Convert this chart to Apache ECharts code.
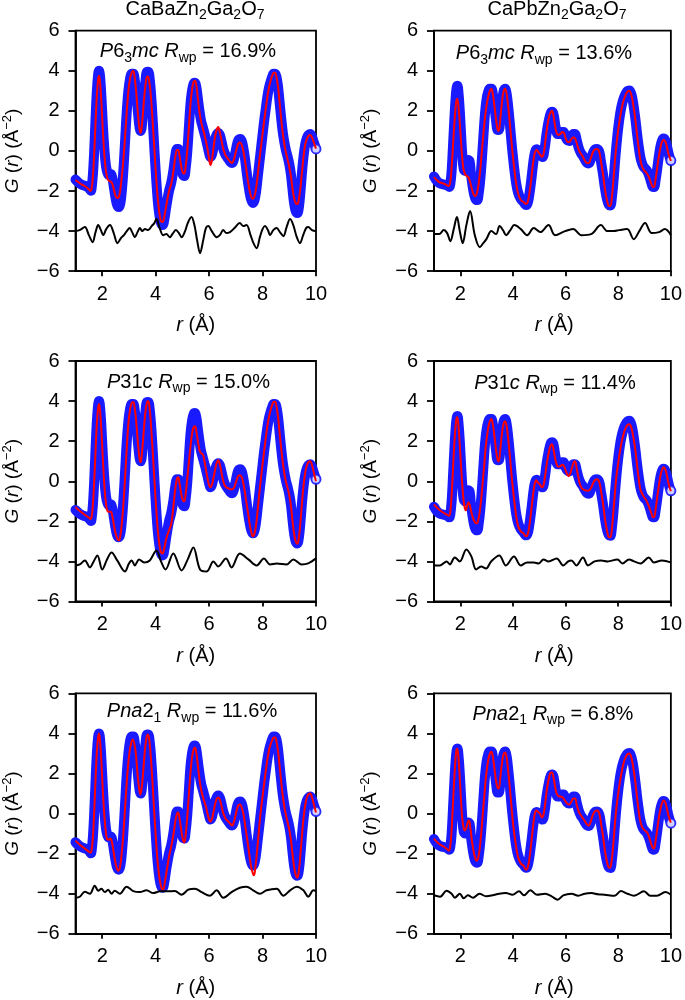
<!DOCTYPE html>
<html><head><meta charset="utf-8">
<script src="https://cdn.jsdelivr.net/npm/echarts@6/dist/echarts.min.js"></script>
<style>html,body{margin:0;padding:0;background:#fff}#c{width:685px;height:1000px}</style>
</head><body><div id="c"></div>
<script>
// ---------- DATA ----------
const compounds = ['CaBaZn2Ga2O7', 'CaPbZn2Ga2O7'];
const spaceGroups = ['P6_3mc', 'P6_3mc', 'P31c', 'P31c', 'Pna2_1', 'Pna2_1'];
const rwpValues = [16.9, 13.6, 15.0, 11.4, 11.6, 6.8];
const xTicks = [2, 4, 6, 8, 10];

// observed G(r), CaBaZn2Ga2O7
const obsBa = [[1.0,-1.43],[1.1,-1.56],[1.2,-1.66],[1.3,-1.72],[1.4,-1.76],[1.5,-1.85],[1.58,-1.98],[1.6,-1.9],[1.65,-1.2],[1.7,0.0],[1.75,1.6],[1.8,3.0],[1.85,3.85],[1.88,4.0],[1.92,3.7],[1.97,2.7],[2.02,1.4],[2.08,0.1],[2.14,-0.75],[2.2,-1.1],[2.26,-1.2],[2.32,-1.15],[2.38,-1.35],[2.44,-1.85],[2.5,-2.35],[2.56,-2.7],[2.62,-2.8],[2.68,-2.6],[2.74,-1.9],[2.8,-0.8],[2.86,0.6],[2.92,2.0],[2.98,3.0],[3.04,3.6],[3.1,3.85],[3.16,3.85],[3.22,3.5],[3.28,2.8],[3.34,1.9],[3.4,1.15],[3.44,1.0],[3.5,1.5],[3.56,2.6],[3.62,3.5],[3.68,3.95],[3.72,3.95],[3.78,3.55],[3.84,2.6],[3.9,1.3],[3.96,-0.1],[4.02,-1.4],[4.08,-2.5],[4.14,-3.2],[4.2,-3.6],[4.26,-3.7],[4.32,-3.45],[4.4,-2.75],[4.5,-2.0],[4.58,-1.6],[4.66,-1.0],[4.74,-0.2],[4.8,0.1],[4.84,0.1],[4.9,-0.25],[4.96,-0.8],[5.02,-1.2],[5.07,-1.25],[5.12,-0.9],[5.18,-0.1],[5.24,1.1],[5.3,2.3],[5.36,3.0],[5.42,3.35],[5.47,3.4],[5.52,3.2],[5.58,2.6],[5.64,2.0],[5.7,1.5],[5.76,1.2],[5.82,0.9],[5.88,0.6],[5.94,0.25],[6.0,-0.1],[6.05,-0.3],[6.1,-0.2],[6.16,0.15],[6.22,0.55],[6.28,0.8],[6.34,0.9],[6.4,0.8],[6.46,0.5],[6.52,0.15],[6.58,-0.1],[6.64,-0.25],[6.72,-0.4],[6.8,-0.55],[6.86,-0.6],[6.92,-0.45],[6.98,-0.1],[7.04,0.3],[7.1,0.55],[7.16,0.6],[7.22,0.5],[7.28,0.15],[7.34,-0.35],[7.4,-1.0],[7.46,-1.6],[7.52,-2.1],[7.58,-2.45],[7.64,-2.6],[7.7,-2.45],[7.76,-2.0],[7.82,-1.3],[7.88,-0.6],[7.94,0.1],[8.0,0.8],[8.06,1.5],[8.12,2.1],[8.18,2.7],[8.24,3.15],[8.3,3.45],[8.36,3.7],[8.42,3.85],[8.47,3.85],[8.52,3.7],[8.58,3.2],[8.64,2.4],[8.7,1.6],[8.76,0.9],[8.82,0.4],[8.88,0.0],[8.94,-0.3],[9.0,-0.65],[9.06,-1.15],[9.12,-1.9],[9.18,-2.6],[9.24,-3.0],[9.3,-3.1],[9.36,-2.8],[9.42,-2.0],[9.48,-1.0],[9.54,-0.2],[9.6,0.35],[9.66,0.65],[9.72,0.8],[9.78,0.85],[9.84,0.75],[9.9,0.5],[9.95,0.3],[10.0,0.1]];

// observed G(r), CaPbZn2Ga2O7
const obsPb = [[1.0,-1.27],[1.1,-1.48],[1.2,-1.6],[1.3,-1.65],[1.4,-1.68],[1.5,-1.72],[1.58,-1.8],[1.62,-1.65],[1.67,-1.0],[1.72,0.2],[1.77,1.5],[1.82,2.6],[1.86,3.15],[1.89,3.25],[1.93,2.9],[1.98,2.0],[2.03,0.8],[2.08,-0.3],[2.13,-0.9],[2.18,-1.0],[2.24,-0.75],[2.3,-0.45],[2.35,-0.5],[2.4,-1.1],[2.46,-1.7],[2.52,-2.15],[2.58,-2.4],[2.64,-2.45],[2.7,-2.1],[2.76,-1.4],[2.82,-0.4],[2.88,0.8],[2.94,1.9],[3.0,2.6],[3.06,2.95],[3.12,3.1],[3.18,3.1],[3.24,2.8],[3.3,2.2],[3.36,1.5],[3.42,1.05],[3.46,1.05],[3.52,1.6],[3.58,2.4],[3.64,2.95],[3.7,3.1],[3.76,2.85],[3.82,2.2],[3.88,1.4],[3.94,0.5],[4.0,-0.3],[4.06,-1.0],[4.12,-1.6],[4.2,-2.1],[4.3,-2.4],[4.4,-2.55],[4.5,-2.7],[4.56,-2.6],[4.62,-2.2],[4.7,-1.4],[4.78,-0.5],[4.84,-0.05],[4.9,0.08],[4.96,0.0],[5.04,-0.2],[5.12,-0.3],[5.2,0.1],[5.28,0.9],[5.36,1.5],[5.44,1.9],[5.5,1.95],[5.56,1.7],[5.62,1.2],[5.7,0.85],[5.78,0.85],[5.86,0.95],[5.92,0.95],[5.98,0.75],[6.06,0.55],[6.14,0.5],[6.22,0.7],[6.3,0.85],[6.36,0.85],[6.42,0.55],[6.5,0.15],[6.58,-0.1],[6.66,-0.25],[6.74,-0.45],[6.82,-0.6],[6.88,-0.62],[6.96,-0.4],[7.04,-0.1],[7.12,0.08],[7.2,0.1],[7.28,-0.05],[7.34,-0.5],[7.42,-1.15],[7.5,-1.9],[7.58,-2.45],[7.65,-2.7],[7.7,-2.72],[7.76,-2.3],[7.82,-1.5],[7.88,-0.5],[7.94,0.4],[8.0,1.15],[8.06,1.75],[8.12,2.2],[8.2,2.6],[8.28,2.85],[8.36,3.0],[8.42,3.02],[8.48,2.9],[8.54,2.6],[8.6,2.1],[8.66,1.5],[8.72,0.8],[8.78,0.2],[8.84,-0.3],[8.9,-0.6],[8.96,-0.78],[9.04,-0.9],[9.1,-1.0],[9.18,-1.25],[9.26,-1.6],[9.32,-1.8],[9.36,-1.8],[9.42,-1.45],[9.48,-0.9],[9.54,-0.3],[9.6,0.2],[9.66,0.5],[9.72,0.62],[9.78,0.55],[9.84,0.3],[9.9,-0.05],[9.95,-0.3],[10.0,-0.48]];

// calculated G(r) fits
const fitP6Ba = [[1.0,-1.45],[1.1,-1.55],[1.2,-1.65],[1.3,-1.72],[1.4,-1.8],[1.5,-1.92],[1.56,-2.0],[1.6,-1.9],[1.65,-1.3],[1.7,-0.1],[1.75,1.4],[1.8,2.8],[1.85,3.6],[1.88,3.75],[1.92,3.4],[1.97,2.4],[2.02,1.1],[2.08,-0.2],[2.14,-1.0],[2.2,-1.4],[2.26,-1.5],[2.32,-1.52],[2.38,-1.65],[2.44,-1.95],[2.5,-2.25],[2.56,-2.35],[2.62,-2.3],[2.68,-1.9],[2.74,-1.2],[2.8,-0.3],[2.86,0.8],[2.92,2.0],[2.98,3.0],[3.04,3.6],[3.1,3.9],[3.16,4.0],[3.22,3.6],[3.28,2.8],[3.34,1.8],[3.4,1.05],[3.44,0.9],[3.5,1.5],[3.56,2.5],[3.62,3.3],[3.68,3.72],[3.72,3.7],[3.78,3.3],[3.84,2.4],[3.9,1.2],[3.96,-0.1],[4.02,-1.35],[4.08,-2.4],[4.14,-3.1],[4.2,-3.5],[4.26,-3.55],[4.32,-3.3],[4.4,-2.7],[4.5,-2.0],[4.58,-1.65],[4.66,-1.05],[4.74,-0.25],[4.8,0.05],[4.84,0.05],[4.9,-0.3],[4.96,-0.8],[5.02,-1.1],[5.07,-1.12],[5.12,-0.8],[5.18,0.0],[5.24,1.1],[5.3,2.3],[5.36,3.05],[5.42,3.45],[5.47,3.5],[5.52,3.3],[5.58,2.6],[5.64,1.95],[5.7,1.45],[5.76,1.15],[5.82,0.85],[5.88,0.5],[5.94,0.1],[6.0,-0.4],[6.05,-0.7],[6.1,-0.5],[6.16,0.1],[6.22,0.7],[6.28,1.05],[6.34,1.2],[6.4,0.95],[6.46,0.55],[6.52,0.15],[6.58,-0.1],[6.64,-0.28],[6.72,-0.42],[6.8,-0.55],[6.86,-0.6],[6.92,-0.45],[6.98,-0.15],[7.04,0.15],[7.1,0.38],[7.16,0.42],[7.22,0.3],[7.28,0.0],[7.34,-0.45],[7.4,-1.0],[7.46,-1.55],[7.52,-2.0],[7.58,-2.3],[7.64,-2.38],[7.7,-2.25],[7.76,-1.85],[7.82,-1.2],[7.88,-0.5],[7.94,0.2],[8.0,0.85],[8.06,1.5],[8.12,2.1],[8.18,2.7],[8.24,3.15],[8.3,3.5],[8.36,3.75],[8.42,3.9],[8.47,3.9],[8.52,3.7],[8.58,3.2],[8.64,2.4],[8.7,1.55],[8.76,0.85],[8.82,0.3],[8.88,-0.1],[8.94,-0.45],[9.0,-0.8],[9.06,-1.25],[9.12,-1.85],[9.18,-2.35],[9.24,-2.6],[9.3,-2.65],[9.36,-2.4],[9.42,-1.8],[9.48,-1.0],[9.54,-0.2],[9.6,0.35],[9.66,0.6],[9.72,0.75],[9.78,0.8],[9.84,0.7],[9.9,0.5],[9.95,0.3],[10.0,0.12]];
const fitP6Pb = [[1.0,-1.3],[1.1,-1.45],[1.2,-1.55],[1.3,-1.6],[1.4,-1.65],[1.5,-1.72],[1.56,-1.75],[1.61,-1.6],[1.66,-1.0],[1.71,0.0],[1.76,1.1],[1.81,2.0],[1.85,2.5],[1.88,2.6],[1.92,2.35],[1.97,1.6],[2.02,0.6],[2.07,-0.3],[2.12,-0.9],[2.18,-1.15],[2.24,-1.25],[2.3,-1.3],[2.36,-1.5],[2.42,-1.8],[2.5,-2.15],[2.57,-2.25],[2.63,-2.1],[2.7,-1.6],[2.76,-0.9],[2.82,0.0],[2.88,0.9],[2.94,1.7],[3.0,2.3],[3.06,2.7],[3.12,3.0],[3.18,3.1],[3.24,2.8],[3.3,2.2],[3.36,1.55],[3.42,1.05],[3.46,1.0],[3.52,1.6],[3.58,2.4],[3.64,2.95],[3.7,3.1],[3.76,2.85],[3.82,2.2],[3.88,1.4],[3.94,0.5],[4.0,-0.3],[4.06,-1.0],[4.12,-1.6],[4.2,-2.15],[4.3,-2.45],[4.4,-2.55],[4.5,-2.65],[4.56,-2.55],[4.62,-2.15],[4.7,-1.35],[4.78,-0.45],[4.84,-0.05],[4.9,0.05],[4.96,-0.05],[5.04,-0.2],[5.1,-0.3],[5.16,-0.15],[5.22,0.35],[5.3,1.2],[5.38,1.75],[5.44,1.95],[5.48,2.0],[5.54,1.75],[5.6,1.25],[5.66,0.9],[5.72,0.8],[5.8,0.85],[5.88,0.95],[5.94,0.9],[6.0,0.65],[6.08,0.45],[6.14,0.45],[6.22,0.6],[6.3,0.68],[6.36,0.62],[6.42,0.4],[6.5,0.05],[6.56,-0.1],[6.64,-0.25],[6.74,-0.5],[6.82,-0.6],[6.88,-0.6],[6.96,-0.35],[7.04,-0.05],[7.12,0.08],[7.2,0.1],[7.28,-0.05],[7.34,-0.5],[7.42,-1.15],[7.5,-1.95],[7.58,-2.5],[7.65,-2.75],[7.7,-2.75],[7.76,-2.3],[7.82,-1.4],[7.88,-0.4],[7.94,0.4],[8.0,1.05],[8.06,1.6],[8.12,2.05],[8.2,2.5],[8.28,2.8],[8.36,2.97],[8.42,3.0],[8.48,2.88],[8.54,2.55],[8.6,2.05],[8.66,1.45],[8.72,0.75],[8.78,0.1],[8.84,-0.45],[8.9,-0.75],[8.96,-0.92],[9.04,-1.05],[9.1,-1.15],[9.18,-1.35],[9.26,-1.65],[9.32,-1.8],[9.36,-1.8],[9.42,-1.4],[9.48,-0.85],[9.54,-0.3],[9.6,0.15],[9.66,0.45],[9.72,0.55],[9.78,0.5],[9.84,0.25],[9.9,-0.1],[9.95,-0.3],[10.0,-0.5]];
const fitP31Ba = [[1.0,-1.3],[1.1,-1.42],[1.2,-1.52],[1.3,-1.62],[1.4,-1.72],[1.5,-1.82],[1.56,-1.88],[1.6,-1.8],[1.65,-1.2],[1.7,0.0],[1.75,1.5],[1.8,2.9],[1.85,3.7],[1.88,3.85],[1.92,3.5],[1.97,2.5],[2.02,1.2],[2.08,-0.2],[2.14,-1.1],[2.2,-1.5],[2.26,-1.52],[2.32,-1.52],[2.38,-1.75],[2.44,-2.2],[2.5,-2.6],[2.56,-2.85],[2.62,-2.95],[2.68,-2.7],[2.74,-2.0],[2.8,-1.0],[2.86,0.3],[2.92,1.7],[2.98,2.9],[3.04,3.55],[3.1,3.9],[3.16,3.95],[3.22,3.6],[3.28,2.85],[3.34,1.85],[3.4,1.1],[3.44,0.95],[3.5,1.6],[3.56,2.6],[3.62,3.5],[3.68,3.95],[3.72,4.0],[3.78,3.55],[3.84,2.5],[3.9,1.25],[3.96,-0.1],[4.02,-1.35],[4.08,-2.45],[4.14,-3.15],[4.2,-3.55],[4.26,-3.6],[4.32,-3.35],[4.4,-2.85],[4.5,-2.45],[4.58,-2.15],[4.66,-1.3],[4.74,-0.3],[4.8,0.15],[4.84,0.2],[4.9,-0.15],[4.96,-0.65],[5.02,-0.95],[5.07,-1.0],[5.12,-0.65],[5.18,0.1],[5.24,0.9],[5.3,1.7],[5.36,2.35],[5.42,2.7],[5.47,2.75],[5.52,2.5],[5.58,2.0],[5.64,1.55],[5.7,1.4],[5.76,1.35],[5.82,1.05],[5.88,0.6],[5.94,0.15],[6.0,-0.2],[6.05,-0.3],[6.1,-0.2],[6.16,0.15],[6.22,0.55],[6.28,0.9],[6.34,1.05],[6.4,0.85],[6.46,0.45],[6.52,0.05],[6.58,-0.2],[6.64,-0.3],[6.72,-0.35],[6.8,-0.4],[6.86,-0.4],[6.92,-0.35],[6.98,-0.15],[7.04,0.1],[7.1,0.28],[7.16,0.3],[7.22,0.2],[7.28,-0.1],[7.34,-0.55],[7.4,-1.1],[7.46,-1.6],[7.52,-2.15],[7.58,-2.55],[7.64,-2.75],[7.7,-2.6],[7.76,-2.15],[7.82,-1.4],[7.88,-0.6],[7.94,0.15],[8.0,0.85],[8.06,1.5],[8.12,2.15],[8.18,2.75],[8.24,3.2],[8.3,3.55],[8.36,3.8],[8.42,3.97],[8.47,3.97],[8.52,3.75],[8.58,3.2],[8.64,2.4],[8.7,1.6],[8.76,0.9],[8.82,0.35],[8.88,-0.05],[8.94,-0.35],[9.0,-0.7],[9.06,-1.2],[9.12,-1.95],[9.18,-2.6],[9.24,-3.0],[9.3,-3.12],[9.36,-2.8],[9.42,-2.0],[9.48,-1.0],[9.54,-0.15],[9.6,0.45],[9.66,0.8],[9.72,0.97],[9.78,1.0],[9.84,0.85],[9.9,0.55],[9.95,0.25],[10.0,0.0]];
const fitP31Pb = [[1.0,-1.15],[1.1,-1.3],[1.2,-1.42],[1.3,-1.52],[1.4,-1.6],[1.5,-1.68],[1.56,-1.72],[1.61,-1.6],[1.66,-0.9],[1.71,0.3],[1.76,1.6],[1.81,2.6],[1.85,3.1],[1.88,3.2],[1.92,2.9],[1.97,2.0],[2.02,0.9],[2.07,-0.1],[2.12,-0.9],[2.17,-1.35],[2.21,-1.45],[2.26,-1.2],[2.31,-1.05],[2.36,-1.2],[2.42,-1.55],[2.5,-1.9],[2.56,-2.05],[2.62,-2.1],[2.68,-1.95],[2.74,-1.5],[2.8,-0.8],[2.86,0.1],[2.92,1.0],[2.98,1.9],[3.04,2.5],[3.1,2.9],[3.18,3.1],[3.24,2.8],[3.3,2.2],[3.36,1.55],[3.42,1.05],[3.46,1.0],[3.52,1.6],[3.58,2.35],[3.64,2.85],[3.7,3.0],[3.76,2.75],[3.82,2.1],[3.88,1.3],[3.94,0.4],[4.0,-0.4],[4.06,-1.1],[4.12,-1.7],[4.2,-2.25],[4.3,-2.5],[4.4,-2.6],[4.5,-2.75],[4.56,-2.65],[4.62,-2.25],[4.7,-1.4],[4.78,-0.5],[4.84,-0.05],[4.88,0.05],[4.94,-0.05],[5.02,-0.15],[5.1,-0.3],[5.16,-0.2],[5.22,0.25],[5.3,1.0],[5.38,1.55],[5.44,1.8],[5.48,1.85],[5.54,1.6],[5.6,1.15],[5.66,0.85],[5.72,0.72],[5.8,0.75],[5.88,0.82],[5.94,0.75],[6.0,0.55],[6.06,0.35],[6.12,0.25],[6.18,0.4],[6.26,0.75],[6.32,0.98],[6.36,1.0],[6.42,0.65],[6.5,0.1],[6.56,-0.2],[6.64,-0.38],[6.74,-0.45],[6.82,-0.47],[6.9,-0.45],[6.98,-0.3],[7.06,-0.05],[7.14,0.08],[7.2,0.1],[7.28,-0.05],[7.34,-0.45],[7.42,-1.1],[7.5,-1.9],[7.58,-2.5],[7.65,-2.8],[7.7,-2.8],[7.76,-2.35],[7.82,-1.45],[7.88,-0.5],[7.94,0.35],[8.0,0.9],[8.06,1.45],[8.12,1.9],[8.2,2.35],[8.28,2.65],[8.36,2.82],[8.42,2.85],[8.48,2.75],[8.54,2.45],[8.6,2.0],[8.66,1.45],[8.72,0.75],[8.78,0.1],[8.84,-0.4],[8.9,-0.6],[8.96,-0.75],[9.04,-0.9],[9.1,-1.05],[9.18,-1.3],[9.26,-1.6],[9.32,-1.8],[9.36,-1.8],[9.42,-1.4],[9.48,-0.8],[9.54,-0.25],[9.6,0.25],[9.66,0.55],[9.72,0.7],[9.78,0.62],[9.84,0.35],[9.9,-0.05],[9.95,-0.3],[10.0,-0.5]];
const fitPnaBa = [[1.0,-1.35],[1.1,-1.48],[1.2,-1.6],[1.3,-1.7],[1.4,-1.8],[1.5,-1.9],[1.56,-1.95],[1.6,-1.85],[1.65,-1.2],[1.7,0.1],[1.75,1.7],[1.8,3.1],[1.85,3.85],[1.88,4.0],[1.92,3.6],[1.97,2.55],[2.02,1.2],[2.08,-0.1],[2.14,-0.95],[2.2,-1.3],[2.26,-1.3],[2.31,-1.25],[2.36,-1.4],[2.42,-1.85],[2.48,-2.35],[2.54,-2.7],[2.6,-2.85],[2.66,-2.7],[2.72,-2.1],[2.78,-1.2],[2.84,-0.05],[2.9,1.2],[2.96,2.3],[3.02,3.05],[3.08,3.5],[3.14,3.7],[3.2,3.5],[3.26,2.95],[3.32,2.0],[3.38,1.25],[3.43,0.95],[3.48,1.3],[3.54,2.2],[3.6,3.2],[3.66,3.8],[3.7,3.95],[3.76,3.7],[3.82,2.8],[3.88,1.6],[3.94,0.2],[4.0,-1.05],[4.06,-2.2],[4.12,-3.0],[4.18,-3.5],[4.24,-3.78],[4.28,-3.8],[4.34,-3.45],[4.42,-2.8],[4.5,-2.15],[4.58,-1.65],[4.66,-1.1],[4.74,-0.35],[4.8,0.0],[4.84,0.05],[4.9,-0.3],[4.96,-0.85],[5.02,-1.3],[5.07,-1.45],[5.12,-1.1],[5.18,-0.2],[5.24,0.9],[5.3,2.0],[5.36,2.8],[5.42,3.2],[5.47,3.3],[5.52,3.05],[5.58,2.4],[5.64,1.7],[5.7,1.2],[5.76,0.88],[5.82,0.6],[5.88,0.35],[5.94,0.0],[6.0,-0.3],[6.05,-0.4],[6.1,-0.3],[6.16,0.05],[6.22,0.45],[6.28,0.72],[6.34,0.8],[6.4,0.7],[6.46,0.4],[6.52,0.05],[6.58,-0.15],[6.64,-0.3],[6.72,-0.4],[6.8,-0.52],[6.86,-0.6],[6.92,-0.45],[6.98,-0.15],[7.04,0.2],[7.1,0.42],[7.16,0.45],[7.22,0.3],[7.28,0.0],[7.34,-0.5],[7.4,-1.05],[7.46,-1.6],[7.52,-2.2],[7.58,-2.7],[7.64,-3.0],[7.68,-3.08],[7.73,-2.7],[7.8,-1.8],[7.88,-0.6],[7.94,0.2],[8.0,0.85],[8.06,1.5],[8.12,2.1],[8.18,2.7],[8.24,3.15],[8.3,3.45],[8.36,3.65],[8.42,3.8],[8.47,3.8],[8.52,3.6],[8.58,3.1],[8.64,2.35],[8.7,1.55],[8.76,0.85],[8.82,0.3],[8.88,-0.1],[8.94,-0.45],[9.0,-0.8],[9.06,-1.3],[9.12,-2.0],[9.18,-2.65],[9.24,-3.05],[9.3,-3.2],[9.36,-2.85],[9.42,-2.0],[9.48,-1.0],[9.54,-0.15],[9.6,0.45],[9.66,0.8],[9.72,0.97],[9.78,1.0],[9.84,0.85],[9.9,0.55],[9.95,0.3],[10.0,0.05]];
const fitPnaPb = [[1.0,-1.25],[1.1,-1.4],[1.2,-1.52],[1.3,-1.6],[1.4,-1.68],[1.5,-1.78],[1.56,-1.85],[1.61,-1.7],[1.66,-1.0],[1.71,0.2],[1.76,1.5],[1.81,2.6],[1.85,3.15],[1.88,3.25],[1.92,2.95],[1.97,2.0],[2.02,0.8],[2.07,-0.2],[2.12,-0.7],[2.17,-0.85],[2.23,-0.7],[2.29,-0.4],[2.33,-0.35],[2.38,-0.7],[2.44,-1.35],[2.5,-1.85],[2.56,-2.2],[2.62,-2.35],[2.68,-2.2],[2.74,-1.7],[2.8,-0.9],[2.86,0.1],[2.92,1.0],[2.98,1.9],[3.04,2.5],[3.1,2.9],[3.18,3.08],[3.24,2.8],[3.3,2.2],[3.36,1.6],[3.42,1.27],[3.46,1.25],[3.52,1.8],[3.58,2.5],[3.64,2.95],[3.7,3.05],[3.76,2.8],[3.82,2.1],[3.88,1.3],[3.94,0.4],[4.0,-0.45],[4.06,-1.1],[4.12,-1.65],[4.2,-2.2],[4.3,-2.5],[4.4,-2.6],[4.5,-2.8],[4.56,-2.7],[4.62,-2.3],[4.7,-1.4],[4.78,-0.45],[4.84,0.05],[4.88,0.15],[4.94,0.1],[5.02,0.0],[5.1,-0.2],[5.16,-0.05],[5.22,0.45],[5.3,1.3],[5.38,1.85],[5.44,2.05],[5.48,2.05],[5.54,1.8],[5.6,1.35],[5.66,1.0],[5.72,0.88],[5.8,0.85],[5.88,0.82],[5.94,0.72],[6.0,0.6],[6.08,0.48],[6.14,0.45],[6.22,0.6],[6.3,0.75],[6.36,0.75],[6.42,0.45],[6.5,0.1],[6.56,-0.05],[6.64,-0.2],[6.74,-0.4],[6.82,-0.55],[6.88,-0.6],[6.96,-0.38],[7.04,-0.05],[7.12,0.12],[7.2,0.15],[7.28,0.0],[7.34,-0.45],[7.42,-1.1],[7.5,-1.9],[7.58,-2.45],[7.65,-2.7],[7.7,-2.68],[7.76,-2.25],[7.82,-1.4],[7.88,-0.4],[7.94,0.4],[8.0,1.0],[8.06,1.55],[8.12,2.0],[8.2,2.5],[8.28,2.8],[8.36,2.97],[8.42,3.0],[8.48,2.88],[8.54,2.55],[8.6,2.05],[8.66,1.45],[8.72,0.75],[8.78,0.1],[8.84,-0.4],[8.9,-0.65],[8.96,-0.78],[9.04,-0.88],[9.1,-0.95],[9.18,-1.2],[9.26,-1.55],[9.32,-1.72],[9.36,-1.75],[9.42,-1.35],[9.48,-0.8],[9.54,-0.25],[9.6,0.2],[9.66,0.5],[9.72,0.65],[9.78,0.58],[9.84,0.3],[9.9,-0.05],[9.95,-0.28],[10.0,-0.45]];

// difference curves (offset to about -4)
const diffP6Ba = [[1.0,-4.0],[1.15,-3.95],[1.35,-3.8],[1.5,-4.2],[1.64,-4.55],[1.75,-4.05],[1.85,-3.7],[1.95,-3.95],[2.04,-4.2],[2.15,-3.9],[2.29,-3.7],[2.43,-4.1],[2.57,-4.6],[2.7,-4.35],[2.81,-4.2],[2.92,-4.0],[3.03,-3.85],[3.12,-4.05],[3.22,-4.3],[3.32,-4.05],[3.41,-3.85],[3.5,-4.0],[3.6,-3.9],[3.72,-3.95],[3.85,-3.75],[3.95,-3.6],[4.03,-3.4],[4.15,-3.85],[4.28,-4.2],[4.4,-4.15],[4.53,-4.3],[4.65,-4.1],[4.76,-3.95],[4.87,-4.1],[4.97,-4.3],[5.1,-4.0],[5.2,-3.6],[5.34,-3.3],[5.45,-3.7],[5.55,-4.45],[5.66,-5.1],[5.78,-4.45],[5.88,-3.85],[5.97,-3.75],[6.1,-4.0],[6.28,-4.3],[6.4,-4.2],[6.53,-3.95],[6.65,-4.1],[6.78,-4.05],[6.95,-3.85],[7.15,-3.6],[7.28,-3.75],[7.4,-3.7],[7.55,-4.2],[7.66,-4.6],[7.78,-4.85],[7.9,-4.3],[8.0,-3.9],[8.09,-3.75],[8.2,-3.95],[8.28,-4.2],[8.4,-3.95],[8.53,-3.85],[8.65,-4.05],[8.78,-4.25],[8.9,-3.8],[9.03,-3.4],[9.15,-3.7],[9.28,-4.3],[9.4,-4.6],[9.52,-4.2],[9.63,-3.85],[9.71,-3.8],[9.85,-3.95],[10.0,-4.0]];
const diffP6Pb = [[1.0,-4.15],[1.2,-4.15],[1.37,-3.95],[1.5,-4.1],[1.62,-4.5],[1.75,-3.9],[1.87,-3.3],[1.98,-4.0],[2.09,-4.6],[2.23,-3.7],[2.37,-3.0],[2.55,-4.2],[2.74,-4.8],[2.87,-4.6],[2.99,-4.4],[3.18,-4.0],[3.36,-4.15],[3.49,-3.75],[3.62,-3.95],[3.74,-4.2],[3.9,-3.95],[4.05,-3.7],[4.3,-3.9],[4.54,-4.2],[4.79,-3.85],[5.04,-4.05],[5.35,-3.7],[5.6,-4.2],[5.98,-4.0],[6.29,-3.9],[6.6,-4.2],[6.97,-4.15],[7.34,-3.7],[7.59,-4.0],[7.84,-4.0],[8.03,-3.95],[8.34,-3.9],[8.59,-4.4],[8.8,-4.0],[9.02,-3.6],[9.27,-4.1],[9.55,-4.05],[9.77,-3.9],[10.0,-4.2]];
const diffP31Ba = [[1.0,-4.2],[1.16,-4.15],[1.35,-3.95],[1.54,-4.3],[1.68,-4.0],[1.82,-3.7],[2.0,-4.4],[2.18,-3.9],[2.35,-3.55],[2.56,-3.95],[2.85,-4.5],[3.0,-4.1],[3.1,-3.95],[3.22,-4.2],[3.38,-3.9],[3.57,-4.05],[3.78,-3.95],[4.03,-3.45],[4.2,-4.0],[4.37,-4.4],[4.66,-3.6],[4.97,-4.45],[5.2,-3.9],[5.41,-3.3],[5.66,-4.4],[5.91,-4.5],[6.16,-4.0],[6.34,-4.25],[6.63,-3.85],[6.84,-4.3],[7.15,-3.6],[7.47,-3.9],[7.78,-4.2],[8.05,-3.85],[8.28,-4.15],[8.53,-4.1],[8.9,-4.15],[9.15,-3.9],[9.46,-4.15],[9.71,-4.1],[10.0,-3.85]];
const diffP31Pb = [[1.0,-4.2],[1.23,-4.2],[1.48,-4.0],[1.6,-4.15],[1.79,-3.8],[1.98,-4.0],[2.23,-3.4],[2.42,-3.75],[2.6,-4.4],[2.79,-4.25],[2.98,-4.35],[3.17,-4.0],[3.48,-3.7],[3.73,-4.2],[4.04,-3.75],[4.29,-4.2],[4.54,-4.05],[4.79,-4.05],[4.98,-4.1],[5.16,-3.9],[5.35,-4.0],[5.66,-3.85],[5.91,-4.2],[6.1,-4.0],[6.22,-3.95],[6.41,-4.2],[6.66,-3.8],[6.85,-4.2],[7.1,-4.0],[7.35,-3.95],[7.6,-4.0],[7.97,-3.9],[8.16,-4.1],[8.41,-3.9],[8.6,-4.0],[8.85,-4.1],[9.16,-3.8],[9.35,-4.05],[9.66,-3.95],[10.0,-4.05]];
const diffPnaBa = [[1.0,-4.2],[1.16,-4.15],[1.35,-3.9],[1.54,-4.0],[1.72,-3.6],[1.85,-3.85],[1.97,-3.75],[2.1,-3.92],[2.22,-3.8],[2.35,-4.0],[2.47,-3.85],[2.66,-4.0],[2.91,-3.65],[3.16,-3.87],[3.41,-3.92],[3.66,-3.83],[3.91,-3.97],[4.16,-3.88],[4.41,-3.88],[4.72,-3.87],[4.97,-4.05],[5.22,-3.8],[5.47,-3.75],[5.72,-3.92],[6.03,-4.1],[6.28,-3.83],[6.53,-4.2],[6.84,-3.92],[7.15,-3.7],[7.4,-3.65],[7.65,-3.83],[7.9,-4.0],[8.15,-3.83],[8.53,-3.75],[8.78,-4.1],[9.03,-3.83],[9.28,-3.65],[9.53,-3.83],[9.71,-4.15],[9.9,-3.83],[10.0,-3.87]];
const diffPnaPb = [[1.0,-4.08],[1.23,-4.15],[1.48,-3.85],[1.67,-4.0],[1.79,-4.2],[1.98,-4.0],[2.13,-4.23],[2.29,-4.08],[2.48,-4.2],[2.73,-4.0],[2.98,-4.13],[3.23,-4.08],[3.48,-4.0],[3.73,-3.97],[3.98,-4.05],[4.23,-3.88],[4.42,-4.08],[4.66,-3.83],[4.91,-4.05],[5.23,-4.0],[5.47,-4.13],[5.7,-4.3],[5.91,-4.08],[6.23,-4.0],[6.48,-4.1],[6.73,-4.0],[6.98,-3.97],[7.23,-4.03],[7.48,-4.05],[7.86,-4.1],[8.1,-3.87],[8.35,-4.0],[8.6,-4.1],[8.98,-3.88],[9.22,-4.1],[9.47,-4.1],[9.79,-3.92],[10.0,-4.05]];

// ---------- LAYOUT / STYLE ----------
const FONT = '"Liberation Sans", Arial, Helvetica, sans-serif';
const colLeft = [75.5, 434];
const rowTop = [30.7, 361, 693.3];
const PW = 240.5, PH = 240.5;
const BLUE = '#1a1aff', RED = '#ff0000';
const annX = [188, 544, 188.5, 555, 192, 553];
const annDy = [21, 23, 21, 22, 18.5, 21];

const panels = [
  {obs: obsBa, fit: fitP6Ba, diff: diffP6Ba},
  {obs: obsPb, fit: fitP6Pb, diff: diffP6Pb},
  {obs: obsBa, fit: fitP31Ba, diff: diffP31Ba},
  {obs: obsPb, fit: fitP31Pb, diff: diffP31Pb},
  {obs: obsBa, fit: fitPnaBa, diff: diffPnaBa},
  {obs: obsPb, fit: fitPnaPb, diff: diffPnaPb}
];

const rich = {
  n: {fontSize: 20, fontFamily: FONT, fill: '#000', lineHeight: 26},
  i: {fontSize: 20, fontFamily: FONT, fontStyle: 'italic', fill: '#000', lineHeight: 26},
  s: {fontSize: 14, fontFamily: FONT, fill: '#000', lineHeight: 14, verticalAlign: 'bottom'},
  yn: {fontSize: 19, fontFamily: FONT, fill: '#000', lineHeight: 24},
  yi: {fontSize: 19, fontFamily: FONT, fontStyle: 'italic', fill: '#000', lineHeight: 24},
  p: {fontSize: 13, fontFamily: FONT, fill: '#000', lineHeight: 13, verticalAlign: 'top'}
};
function formulaRich(f) { // digits as subscripts
  return f.replace(/([A-Za-z]+)|(\d+)/g, (m, a, d) => a ? '{n|' + a + '}' : '{s|' + d + '}');
}
function sgRich(sg) { // letters italic, digits upright, "_d" subscript
  let out = '';
  for (let j = 0; j < sg.length; j++) {
    const ch = sg[j];
    if (ch === '_') { out += '{s|' + sg[j + 1] + '}'; j++; }
    else if (/\d/.test(ch)) out += '{n|' + ch + '}';
    else out += '{i|' + ch + '}';
  }
  return out;
}

const grid = [], xAxis = [], yAxis = [], series = [], graphic = [];
panels.forEach((p, k) => {
  const col = k % 2, row = Math.floor(k / 2);
  grid.push({left: colLeft[col], top: rowTop[row], width: PW, height: PH, show: true,
    borderColor: '#000', borderWidth: 1.8, backgroundColor: 'transparent', containLabel: false});
  xAxis.push({type: 'value', gridIndex: k, min: 1, max: 10,
    axisLine: {show: true, onZero: false, lineStyle: {color: '#000', width: 1.8}},
    axisTick: {show: true, length: 5, customValues: xTicks, lineStyle: {color: '#000', width: 1.8}},
    axisLabel: {customValues: xTicks, color: '#000', fontSize: 20, fontFamily: FONT, margin: 13},
    splitLine: {show: false}});
  yAxis.push({type: 'value', gridIndex: k, min: -6, max: 6, interval: 2,
    axisLine: {show: true, onZero: false, lineStyle: {color: '#000', width: 1.8}},
    axisTick: {show: true, length: 7, lineStyle: {color: '#000', width: 1.8}},
    axisLabel: {color: '#000', fontSize: 20, fontFamily: FONT, margin: 16,
      formatter: v => v < 0 ? '\u2212' + Math.abs(v) : String(v)},
    splitLine: {show: false}});
  series.push({type: 'line', xAxisIndex: k, yAxisIndex: k, data: p.obs, showSymbol: false, smooth: 0.4,
    clip: false, silent: true, z: 2, lineStyle: {color: BLUE, width: 10, cap: 'round', join: 'round'}});
  series.push({type: 'scatter', xAxisIndex: k, yAxisIndex: k, data: [p.obs[p.obs.length - 1]], symbol: 'circle',
    symbolSize: 9, clip: false, silent: true, z: 3, itemStyle: {color: '#fff', borderColor: BLUE, borderWidth: 2}});
  series.push({type: 'line', xAxisIndex: k, yAxisIndex: k, data: p.fit, showSymbol: false, smooth: 0.4,
    clip: false, silent: true, z: 4, lineStyle: {color: RED, width: 2}});
  series.push({type: 'line', xAxisIndex: k, yAxisIndex: k, data: p.diff, showSymbol: false, smooth: 0.35,
    clip: false, silent: true, z: 4, lineStyle: {color: '#000', width: 2}});

  graphic.push({type: 'text', x: annX[k], y: rowTop[row] + annDy[k], z: 10, silent: true,
    style: {text: sgRich(spaceGroups[k]) + '{n| }{i|R}{s|wp}{n| = ' + rwpValues[k].toFixed(1) + '%}',
      rich: rich, align: 'center', verticalAlign: 'middle', fontSize: 20, fontFamily: FONT, fill: '#000'}});
  graphic.push({type: 'text', x: colLeft[col] + PW / 2, y: rowTop[row] + 295, z: 10, silent: true,
    style: {text: '{i|r}{n| (Å)}', rich: rich, align: 'center', verticalAlign: 'middle', fontSize: 20, fontFamily: FONT, fill: '#000'}});
  graphic.push({type: 'text', x: colLeft[col] - 63, y: rowTop[row] + PH / 2, rotation: Math.PI / 2, z: 10, silent: true,
    style: {text: '{yi|G}{yn| (}{yi|r}{yn|) (Å}{p|\u22122}{yn|)}', rich: rich, align: 'center', verticalAlign: 'middle', fontSize: 19, fontFamily: FONT, fill: '#000'}});
});
compounds.forEach((c, col) => {
  graphic.push({type: 'text', x: col === 0 ? 195 : 557, y: 9, z: 10, silent: true,
    style: {text: formulaRich(c), rich: rich, align: 'center', verticalAlign: 'middle', fontSize: 20, fontFamily: FONT, fill: '#000'}});
});

const chart = echarts.init(document.getElementById('c'), null, {renderer: 'canvas'});
chart.setOption({animation: false, backgroundColor: '#fff', grid, xAxis, yAxis, series, graphic});
</script></body></html>
